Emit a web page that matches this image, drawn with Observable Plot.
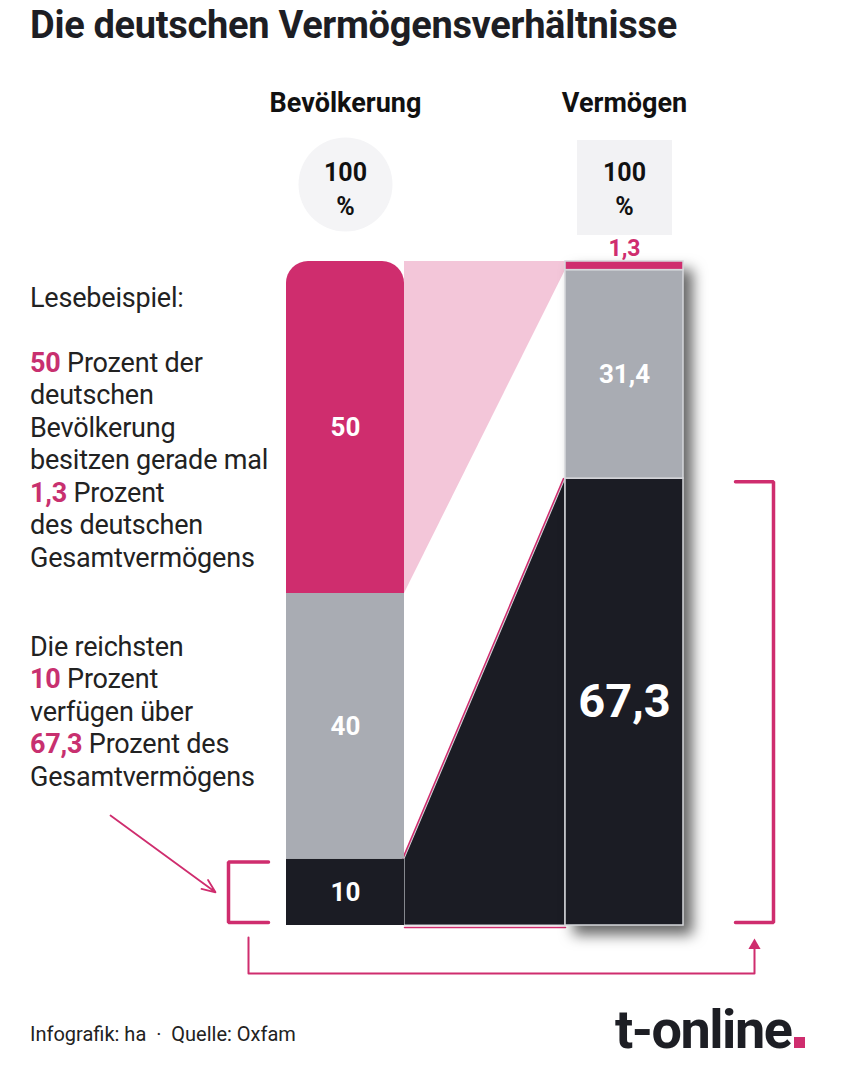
<!DOCTYPE html>
<html><head><meta charset="utf-8">
<script src="https://cdn.jsdelivr.net/npm/d3@7"></script>
<script src="https://cdn.jsdelivr.net/npm/@observablehq/plot@0.6"></script>
<style>
html,body{margin:0;padding:0;background:#fff;}
#page{position:relative;width:852px;height:1070px;overflow:hidden;font-family:Roboto,"Noto Sans",sans-serif;color:#1d1e24;}
#title{position:absolute;left:30px;top:2px;font-size:38px;line-height:46px;font-weight:700;letter-spacing:-0.3px;white-space:nowrap;}
#chart{position:absolute;left:0;top:60px;}
.note{position:absolute;left:30px;font-size:27px;line-height:32.5px;color:#222;white-space:nowrap;letter-spacing:-0.2px;}
.note b{color:#c8306f;font-weight:700;}
#footer{position:absolute;left:30px;top:1021px;font-size:20px;line-height:26px;color:#222;white-space:nowrap;}
#logo{position:absolute;left:615px;top:1000px;font-size:54px;line-height:60px;font-weight:700;letter-spacing:-1.5px;color:#1d1e24;white-space:nowrap;}
#logo span{display:inline-block;width:11px;height:11px;background:#cf2d6e;margin-left:3px;}
g[aria-description="vermoegen-bar"]{filter:drop-shadow(9px 9px 7px rgba(0,0,0,0.6));}
</style></head>
<body>
<div id="page">
  <div id="title">Die deutschen Vermögensverhältnisse</div>
  <div id="chart"></div>
  <div class="note" id="note1"></div>
  <div class="note" id="note2"></div>
  <div id="footer">Infografik: ha &nbsp;·&nbsp; Quelle: Oxfam</div>
  <div id="logo">t-online<span></span></div>
</div>
<script>
// ---------- data ----------
const groups = ["Bevölkerung", "Vermögen"];
const totals = [100, 100];
const segments = ["Untere 50 %", "Mittlere 40 %", "Reichste 10 %"]; // top to bottom
const bevoelkerung = [50, 40, 10];
const vermoegen = [1.3, 31.4, 67.3];
const segmentColors = ["#cf2d6e", "#a9acb3", "#1b1c24"];
const linkColors = ["#f3c6d9", null, "#1b1c24"];
const magenta = "#cf2d6e";

// ---------- layout ----------
const W = 852, H = 940;
const BAR_PX = 118;            // px per x unit (= bar width)
const LEFT0 = 286;             // px of left bar's left edge
const GAP = 161 / BAR_PX;      // gap between the bars (units)
const groupX = [0, 1 + GAP];
const Y_TOP = 201, Y_BOTTOM = 865;
const PX = (Y_BOTTOM - Y_TOP) / 100; // px per percent
const px = v => v / BAR_PX;          // px -> x units
const py = v => v / PX;              // px -> y units
const fmt = v => String(v).replace(".", ",");

const series = [bevoelkerung, vermoegen];
const rows = [];
series.forEach((vals, gi) => {
  let base = 0;
  for (let i = vals.length - 1; i >= 0; i--) {
    rows.push({group: groups[gi], gi, seg: segments[i], si: i, value: vals[i],
      x1: groupX[gi], x2: groupX[gi] + 1, y1: base, y2: base + vals[i]});
    base += vals[i];
  }
});
const bev = rows.filter(d => d.gi === 0), ver = rows.filter(d => d.gi === 1);
const heads = groups.map((g, i) => ({group: g, total: totals[i], x: groupX[i] + 0.5}));

// connecting shapes between both bars
const linkFor = si => {
  const a = bev.find(d => d.si === si), b = ver.find(d => d.si === si);
  return [{si, x: a.x2, y1: a.y1, y2: a.y2}, {si, x: b.x1, y1: b.y1, y2: b.y2}];
};
const pinkLink = linkFor(0), darkLink = linkFor(2);

// brackets around the richest 10 %
const richL = bev.find(d => d.si === 2), richR = ver.find(d => d.si === 2);
const inset = py(3);
const lOuter = richL.x1 - px(58), lInner = richL.x1 - px(18);
const rOuter = richR.x2 + px(90), rInner = richR.x2 + px(52);
const brackets = [
  {id: "L", x: lInner, y: richL.y2 - inset}, {id: "L", x: lOuter, y: richL.y2 - inset},
  {id: "L", x: lOuter, y: richL.y1 + inset}, {id: "L", x: lInner, y: richL.y1 + inset},
  {id: "R", x: rInner, y: richR.y2 - inset}, {id: "R", x: rOuter, y: richR.y2 - inset},
  {id: "R", x: rOuter, y: richR.y1 + inset}, {id: "R", x: rInner, y: richR.y1 + inset}
];
const lMid = (lOuter + lInner) / 2, rMid = (rOuter + rInner) / 2;
const connector = [
  {x: lMid, y: -py(12)}, {x: lMid, y: -py(48)}, {x: rMid, y: -py(48)}, {x: rMid, y: -py(20)}
];
const pointer = [{x1: lOuter - px(118), y1: richL.y1 + py(110), x2: lOuter - px(13), y2: (richL.y1 + richL.y2) / 2}];

const R = 22;
const mid = d => (d.x1 + d.x2) / 2;

const chart = Plot.plot({
  width: W, height: H,
  marginLeft: 0, marginRight: 0, marginTop: Y_TOP, marginBottom: H - Y_BOTTOM,
  x: {domain: [-LEFT0 / BAR_PX, (W - LEFT0) / BAR_PX], axis: null},
  y: {domain: [0, 100], axis: null},
  color: {type: "identity"},
  style: {fontFamily: "Roboto, sans-serif", overflow: "visible", background: "transparent"},
  marks: [
    // header shapes
    Plot.dot(heads.slice(0, 1), {x: "x", y: () => 100, dy: -77, r: 47, fill: "#f4f4f6"}),
    Plot.dot(heads.slice(1), {x: "x", y: () => 100, dy: -74, r: 53.6, symbol: "square", fill: "#f2f2f4"}),
    Plot.text(heads, {x: "x", y: () => 100, dy: -158, text: "group", fontSize: 27, fontWeight: 700, fill: "#111"}),
    Plot.text(heads, {x: "x", y: () => 100, dy: -74, text: d => d.total + "\n%", lineHeight: 1.35, fontSize: 25, fontWeight: 700, fill: "#111"}),
    // links
    Plot.areaY(pinkLink, {x: "x", y1: "y1", y2: "y2", fill: linkColors[0]}),
    Plot.areaY(darkLink, {x: "x", y1: "y1", y2: "y2", fill: linkColors[2], stroke: "#cfd0d5", strokeWidth: 1.2}),
    Plot.line(darkLink, {x: "x", y: "y2", stroke: magenta, strokeWidth: 1.5, dx: -2}),
    Plot.line(darkLink, {x: "x", y: "y1", stroke: magenta, strokeWidth: 1.5, dy: 2}),
    // bars
    Plot.rect(bev.filter(d => d.si === 0), {x1: "x1", x2: "x2", y1: "y1", y2: "y2", fill: d => segmentColors[d.si], rx: R}),
    Plot.rect(bev, {x1: "x1", x2: "x2", y1: "y1", y2: d => d.si === 0 ? d.y2 - py(R) : d.y2, fill: d => segmentColors[d.si]}),
    Plot.rect(ver, {x1: "x1", x2: "x2", y1: "y1", y2: "y2", fill: d => segmentColors[d.si], stroke: "#d6d7db", strokeWidth: 1.5, ariaDescription: "vermoegen-bar"}),
    // labels
    Plot.text(rows.filter(d => d.value >= 5), {x: mid, y: d => (d.y1 + d.y2) / 2, text: d => fmt(d.value), fill: "white", fontWeight: 700, fontSize: d => d.value > 60 ? 47 : 26}),
    Plot.text(rows.filter(d => d.value < 5), {x: mid, y: "y2", dy: -13, text: d => fmt(d.value), fill: magenta, fontWeight: 700, fontSize: 23}),
    // brackets & arrows
    Plot.line(brackets, {x: "x", y: "y", z: "id", stroke: magenta, strokeWidth: 3.5, strokeLinejoin: "miter"}),
    Plot.line(connector, {x: "x", y: "y", stroke: magenta, strokeWidth: 2}),
    Plot.dot(connector.slice(-1), {x: "x", y: "y", symbol: "triangle", r: 4.5, fill: magenta}),
    Plot.arrow(pointer, {x1: "x1", y1: "y1", x2: "x2", y2: "y2", stroke: magenta, strokeWidth: 1.8, headLength: 12, headAngle: 45})
  ]
});
document.getElementById("chart").appendChild(chart);
// fallback in case the description attribute is not emitted
chart.querySelectorAll("g").forEach(g => {
  if (g.getAttribute("aria-description") === "vermoegen-bar") g.style.filter = "drop-shadow(9px 9px 7px rgba(0,0,0,0.6))";
});

// reading example text, numbers taken from the data
const b = v => `<b>${fmt(v)}</b>`;
const n1 = document.getElementById("note1");
n1.style.top = "281.75px";
n1.innerHTML = [
  "Lesebeispiel:", "&nbsp;",
  `${b(bevoelkerung[0])} Prozent der`, "deutschen", "Bevölkerung", "besitzen gerade mal",
  `${b(vermoegen[0])} Prozent`, "des deutschen", "Gesamtvermögens"
].map(s => `<div>${s}</div>`).join("");
const n2 = document.getElementById("note2");
n2.style.top = "630.75px";
n2.innerHTML = [
  "Die reichsten", `${b(bevoelkerung[2])} Prozent`, "verfügen über",
  `${b(vermoegen[2])} Prozent des`, "Gesamtvermögens"
].map(s => `<div>${s}</div>`).join("");
</script>
</body></html>
